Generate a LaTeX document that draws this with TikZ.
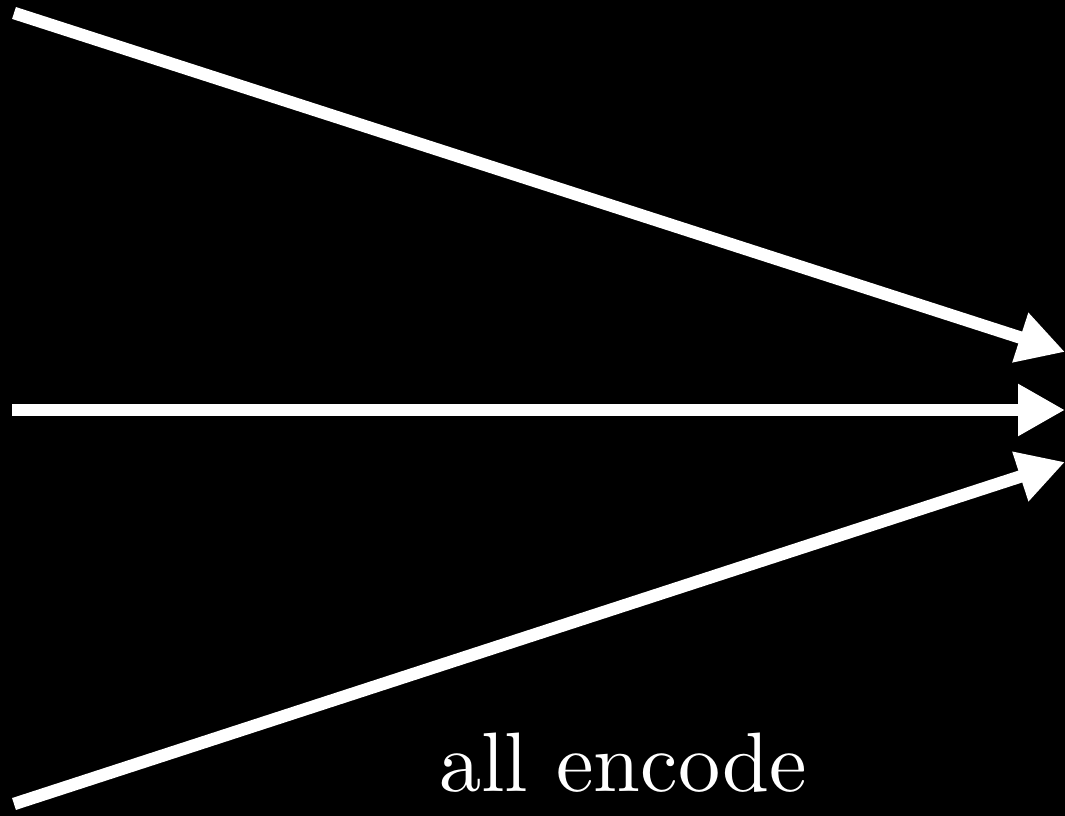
\documentclass[tikz,border=0pt]{standalone}
\usepackage{tikz}
\usetikzlibrary{arrows.meta,positioning,calc}
\definecolor{inkBlack}{RGB}{0, 0, 0}
\definecolor{inkWhite}{RGB}{255, 255, 255}
\tikzset{
    flowArrow/.style={draw=inkWhite, line width=0.25cm, -{Triangle[length=0.94cm, width=0.98cm]}},
}
\begin{document}
\begin{tikzpicture}
                \fill[inkBlack] (0,0) rectangle (21.3,16.32);
                \useasboundingbox (0,0) rectangle (21.3,16.32);
                \coordinate (srcTop) at (0.28,16.06);
                \coordinate (srcMid) at (0.24,8.12);
                \coordinate (srcLow) at (0.28,0.24);
                \coordinate (dstTop) at (21.3,9.28);
                \coordinate (dstMid) at (21.3,8.12);
                \coordinate (dstLow) at (21.3,7.08);
                \draw[flowArrow] (srcTop) -- (dstTop);
                \draw[flowArrow] (srcMid) -- (dstMid);
                \draw[flowArrow] (srcLow) -- (dstLow);
                \node[anchor=base, text=inkWhite, inner sep=0pt, scale=4.8] (encLabel) at (12.46,0.48) {\fontsize{10pt}{12pt}\selectfont all encode};
            \end{tikzpicture}
\end{document}
